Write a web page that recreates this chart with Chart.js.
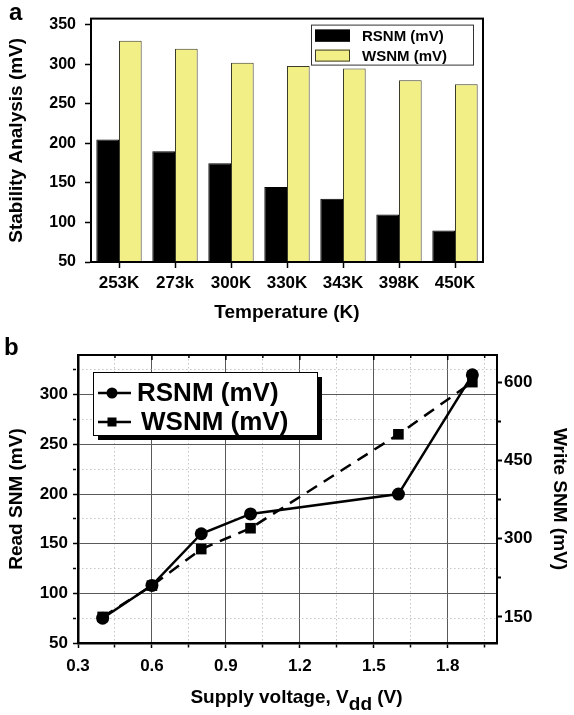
<!DOCTYPE html>
<html>
<head>
<meta charset="utf-8">
<script src="https://cdn.jsdelivr.net/npm/chart.js@4.4.0/dist/chart.umd.min.js"></script>
<style>
  html, body { margin: 0; padding: 0; background: #fff; }
  body { width: 574px; height: 715px; position: relative; overflow: hidden; }
  canvas { position: absolute; left: 0; }
  #tempChart { top: 0; }
  #vddChart { top: 330px; }
</style>
</head>
<body>
<canvas id="tempChart" width="574" height="330"></canvas>
<canvas id="vddChart" width="574" height="385"></canvas>
<script>
// panel a: noise margins vs temperature
const temperatures = ["253K", "273k", "300K", "330K", "343K", "398K", "450K"];
const rsnmByTemp = [205, 190, 175, 145, 130, 110, 90];
const wsnmByTemp = [330, 320, 302, 298, 295, 280, 275];

// panel b: noise margins vs supply voltage
const supplyVoltage = [0.4, 0.6, 0.8, 1.0, 1.6, 1.9];
const readSnm = [75, 108, 160, 180, 200, 320];
const writeSnm = [150, 210, 280, 320, 500, 600];

const FONT = "'Liberation Sans', Arial, Helvetica, sans-serif";
Chart.defaults.font.family = FONT;
Chart.defaults.font.weight = "bold";
Chart.defaults.color = "#000";

const onStep = (v, step) => {
  const r = v / step;
  return Math.abs(r - Math.round(r)) < 1e-6;
};
const keepSteps = (step, min) => scale => {
  scale.ticks = scale.ticks.filter(t => onStep(t.value, step) && t.value > min - 1e-9);
};
// short ticks for minor values
const minorTickDash = (major, len) => ctx =>
  ctx.tick && !onStep(ctx.tick.value, major) ? [len, 40] : [];

const framePlugin = {
  id: "frame",
  afterDraw(chart, args, opts) {
    const { ctx, chartArea: a } = chart;
    ctx.save();
    ctx.strokeStyle = "#000";
    ctx.lineWidth = 2;
    ctx.strokeRect(a.left, a.top, a.right - a.left, a.bottom - a.top);
    if (opts.topTicks) {
      const x = chart.scales.x;
      ctx.lineWidth = 1.5;
      x.ticks.forEach(t => {
        const px = x.getPixelForValue(t.value);
        const len = onStep(t.value, opts.topTicks) ? 5 : 3;
        ctx.beginPath();
        ctx.moveTo(px, a.top);
        ctx.lineTo(px, a.top + len);
        ctx.stroke();
      });
    }
    if (opts.letter) {
      ctx.font = "bold 24px " + FONT;
      ctx.fillStyle = "#000";
      ctx.fillText(opts.letter, opts.lx, opts.ly);
    }
    ctx.restore();
  }
};

const barLegend = {
  id: "barLegend",
  afterDraw(chart) {
    const { ctx, chartArea: a } = chart;
    const x = a.right - 172, y = a.top + 6, w = 162, h = 40;
    ctx.save();
    ctx.fillStyle = "#fff";
    ctx.fillRect(x, y, w, h);
    ctx.strokeStyle = "#333";
    ctx.lineWidth = 1;
    ctx.strokeRect(x + 0.5, y + 0.5, w, h);
    ctx.font = "bold 15px " + FONT;
    ctx.textBaseline = "middle";
    chart.data.datasets.forEach((ds, i) => {
      const cy = y + 11 + i * 20;
      ctx.fillStyle = ds.backgroundColor;
      ctx.fillRect(x + 4, cy - 6, 35, 12);
      ctx.strokeStyle = ds.borderColor;
      ctx.strokeRect(x + 4.5, cy - 5.5, 34, 11);
      ctx.fillStyle = "#000";
      ctx.fillText(ds.label, x + 51, cy + 1);
    });
    ctx.restore();
  }
};

const lineLegend = {
  id: "lineLegend",
  afterDraw(chart) {
    const { ctx, chartArea: a } = chart;
    const x = a.left + 15, y = a.top + 17, w = 224, h = 63;
    ctx.save();
    ctx.fillStyle = "#000";
    ctx.fillRect(x + 5, y + 5, w, h);
    ctx.fillStyle = "#fff";
    ctx.fillRect(x, y, w, h);
    ctx.strokeStyle = "#000";
    ctx.lineWidth = 1;
    ctx.strokeRect(x + 0.5, y + 0.5, w, h);
    ctx.font = "bold 26px " + FONT;
    ctx.textBaseline = "middle";
    chart.data.datasets.forEach((ds, i) => {
      const cy = y + 21 + i * 29;
      const mx = x + 19;
      ctx.strokeStyle = "#000";
      ctx.lineWidth = 2.5;
      ctx.beginPath();
      ctx.moveTo(x + 5, cy);
      ctx.lineTo(x + 38, cy);
      ctx.stroke();
      ctx.fillStyle = "#000";
      if (ds.pointStyle === "circle") {
        ctx.beginPath();
        ctx.arc(mx, cy, 5.5, 0, Math.PI * 2);
        ctx.fill();
      } else {
        ctx.fillRect(mx - 4.5, cy - 4.5, 9, 9);
      }
      ctx.fillText(ds.label, x + 44 + i * 4, cy + 1);
    });
    ctx.restore();
  }
};

const vddTitle = {
  id: "vddTitle",
  afterDraw(chart) {
    const { ctx, chartArea: a } = chart;
    ctx.save();
    ctx.font = "bold 19px " + FONT;
    ctx.fillStyle = "#000";
    const parts = ["Supply voltage, V", "dd", " (V)"];
    const w = parts.map(p => ctx.measureText(p).width);
    let x = (a.left + a.right) / 2 + 9 - (w[0] + w[1] + w[2]) / 2;
    const y = chart.height - 12;
    ctx.fillText(parts[0], x, y); x += w[0];
    ctx.fillText(parts[1], x, y + 7); x += w[1];
    ctx.fillText(parts[2], x, y);
    ctx.restore();
  }
};

new Chart(document.getElementById("tempChart"), {
  type: "bar",
  data: {
    labels: temperatures,
    datasets: [
      { label: "RSNM (mV)", data: rsnmByTemp, backgroundColor: "#000", borderColor: "#000", borderWidth: 1 },
      { label: "WSNM (mV)", data: wsnmByTemp, backgroundColor: "#f2ef86", borderColor: "#3b3b28", borderWidth: 1 }
    ]
  },
  options: {
    responsive: false,
    animation: false,
    layout: { padding: { top: 6, right: 91, left: 0, bottom: 0 } },
    datasets: { bar: { barPercentage: 1, categoryPercentage: 0.81 } },
    plugins: {
      legend: { display: false },
      tooltip: { enabled: false },
      frame: { letter: "a", lx: 9, ly: 20 }
    },
    scales: {
      x: {
        grid: { offset: false, drawOnChartArea: false, tickLength: 6, tickColor: "#000", tickWidth: 1.5 },
        border: { color: "#000", width: 2 },
        ticks: { font: { size: 17, weight: "bold" }, padding: 5 },
        title: { display: true, text: "Temperature (K)", font: { size: 19, weight: "bold" }, padding: { top: 0, bottom: 6 } },
        afterFit: s => { s.height = 68; }
      },
      y: {
        min: 50,
        max: 358,
        afterBuildTicks: keepSteps(25, 50),
        ticks: { stepSize: 25, includeBounds: false, font: { size: 16, weight: "bold" }, padding: 9, callback: v => onStep(v, 50) ? v : "" },
        grid: { drawOnChartArea: false, tickLength: 6, tickColor: "#000", tickWidth: 1.5, tickBorderDash: minorTickDash(50, 3) },
        border: { color: "#000", width: 2 },
        title: { display: true, text: "Stability Analysis (mV)", font: { size: 19, weight: "bold" }, padding: { top: 5, bottom: 0 } },
        afterFit: s => { s.width = 91; }
      }
    }
  },
  plugins: [framePlugin, barLegend]
});

const majorGrid = step => ctx => ctx.tick && onStep(ctx.tick.value, step) ? "#5a5a5a" : "rgba(0,0,0,0)";

new Chart(document.getElementById("vddChart"), {
  type: "line",
  data: {
    datasets: [
      {
        label: "RSNM (mV)",
        data: supplyVoltage.map((v, i) => ({ x: v, y: readSnm[i] })),
        yAxisID: "y",
        borderColor: "#000",
        backgroundColor: "#000",
        borderWidth: 2.5,
        pointStyle: "circle",
        pointRadius: 6.5,
        pointBorderWidth: 0
      },
      {
        label: "WSNM (mV)",
        data: supplyVoltage.map((v, i) => ({ x: v, y: writeSnm[i] })),
        yAxisID: "y2",
        borderColor: "#000",
        backgroundColor: "#000",
        borderWidth: 2.5,
        borderDash: [12, 8],
        pointStyle: "rect",
        pointRadius: 7.5,
        pointBorderWidth: 0
      }
    ]
  },
  options: {
    responsive: false,
    animation: false,
    layout: { padding: { top: 25, right: 0, left: 0, bottom: 0 } },
    plugins: {
      legend: { display: false },
      tooltip: { enabled: false },
      frame: { topTicks: 0.3, letter: "b", lx: 4, ly: 25 }
    },
    scales: {
      x: {
        type: "linear",
        min: 0.3,
        max: 2.0,
        afterBuildTicks: keepSteps(0.15, 0.3),
        ticks: { stepSize: 0.15, includeBounds: false, autoSkip: false, maxRotation: 0, font: { size: 17, weight: "bold" }, padding: 8,
                 callback: v => onStep(v, 0.3) ? v.toFixed(1) : "" },
        grid: { color: majorGrid(0.3), lineWidth: 1, tickLength: 5, tickColor: "#000", tickWidth: 1.5, tickBorderDash: minorTickDash(0.3, 3) },
        border: { color: "#000", width: 2.5 },
        afterFit: s => { s.height = 72; }
      },
      xMinor: {
        type: "linear",
        position: "bottom",
        min: 0.3,
        max: 2.0,
        afterBuildTicks: s => { s.ticks = s.ticks.filter(t => onStep(t.value, 0.15) && !onStep(t.value, 0.3) && t.value > 0.3); },
        ticks: { stepSize: 0.15, includeBounds: false, display: false },
        grid: { color: "#c4c4c4", lineWidth: 1, drawTicks: false },
        border: { display: false, dash: [1.5, 2.5] },
        afterFit: s => { s.height = 0; }
      },
      y: {
        position: "left",
        min: 50,
        max: 340,
        afterBuildTicks: keepSteps(25, 50),
        ticks: { stepSize: 25, includeBounds: false, font: { size: 17, weight: "bold" }, padding: 5, callback: v => onStep(v, 50) ? v : "" },
        grid: { color: majorGrid(50), lineWidth: 1, tickLength: 5, tickColor: "#000", tickWidth: 1.5, tickBorderDash: minorTickDash(50, 3) },
        border: { color: "#000", width: 2.5 },
        title: { display: true, text: "Read SNM (mV)", font: { size: 19, weight: "bold" }, padding: { top: 5, bottom: 0 } },
        afterFit: s => { s.width = 78; }
      },
      yMinor: {
        position: "left",
        min: 50,
        max: 340,
        afterBuildTicks: s => { s.ticks = s.ticks.filter(t => onStep(t.value, 25) && !onStep(t.value, 50)); },
        ticks: { stepSize: 25, includeBounds: false, display: false },
        grid: { color: "#c4c4c4", lineWidth: 1, drawTicks: false },
        border: { display: false, dash: [1.5, 2.5] },
        afterFit: s => { s.width = 0; }
      },
      y2: {
        position: "right",
        min: 100,
        max: 652,
        afterBuildTicks: keepSteps(75, 150),
        ticks: { stepSize: 75, includeBounds: false, font: { size: 17, weight: "bold" }, padding: 2, callback: v => onStep(v, 150) ? v : "" },
        grid: { drawOnChartArea: false, tickLength: 5, tickColor: "#000", tickWidth: 2, tickBorderDash: minorTickDash(150, 3) },
        border: { color: "#000", width: 2 },
        title: { display: true, text: "Write SNM (mV)", font: { size: 19, weight: "bold" }, padding: { top: 3, bottom: 0 } },
        afterFit: s => { s.width = 77; }
      }
    }
  },
  plugins: [framePlugin, lineLegend, vddTitle]
});
</script>
</body>
</html>
